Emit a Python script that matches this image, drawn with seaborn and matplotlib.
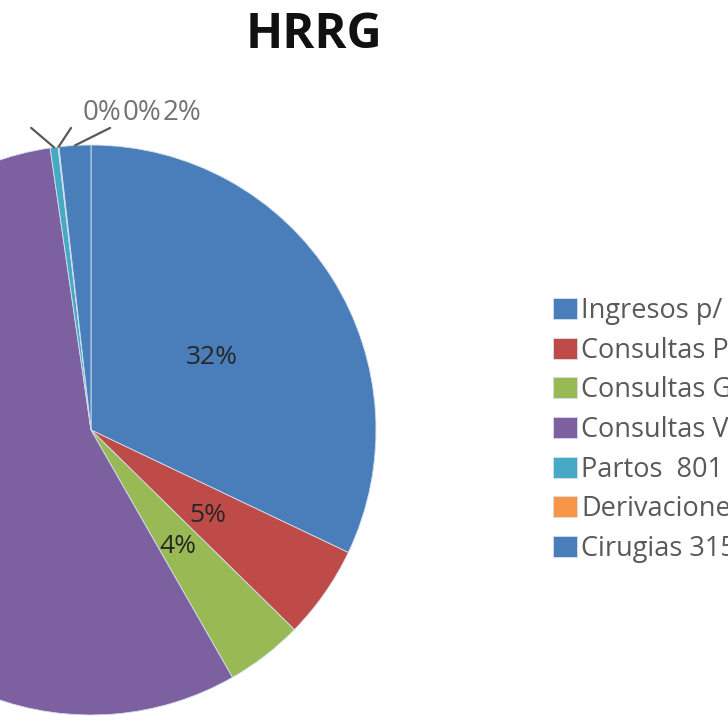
import matplotlib
matplotlib.use('Agg')
import matplotlib.pyplot as plt
import numpy as np
import seaborn as sns

categorias = ['Ingresos p/', 'Consultas P', 'Consultas G', 'Consultas V',
              'Partos  801', 'Derivacione', 'Cirugias 315']
valores = [32.2, 5.3, 4.4, 56.2, 0.45, 0.05, 1.8]
colores = ['#4A7EBB', '#BE4B48', '#98B954', '#7D60A0', '#46AAC5', '#F79646', '#4A7EBB']

# etiquetas de las porciones chicas, van afuera con linea guia
chicas = {4: (-0.21, 1.06), 5: (-0.07, 1.06), 6: (0.067, 1.06)}

sns.set_theme(style='white')
plt.rcParams['font.family'] = ['Open Sans', 'DejaVu Sans']

fig = plt.figure(figsize=(7.28, 7.28), dpi=100)
# la torta se corta a la izquierda, igual que la captura original
ax = fig.add_axes([(91 - 285) / 728, 13 / 728, 570 / 728, 570 / 728])

wedges, _, pct = ax.pie(valores,
                        colors=sns.color_palette(colores),
                        startangle=90,
                        counterclock=False,
                        radius=1,
                        autopct=lambda p: f'{p:.0f}%' if 3 < p < 50 else '',
                        pctdistance=0.5,
                        wedgeprops={'linewidth': 0.6, 'edgecolor': '#D5E0F0'},
                        textprops={'fontsize': 19, 'color': '#262626'})
ax.set_xlim(-1, 1)
ax.set_ylim(-1, 1)

for t in pct:
    x, y = t.get_position()
    t.set_position((x, y - 0.012))

total = sum(valores)
for i, (tx, ty) in chicas.items():
    ang = np.deg2rad((wedges[i].theta1 + wedges[i].theta2) / 2)
    ax.annotate('', xy=(np.cos(ang), np.sin(ang)), xytext=(tx, ty),
                arrowprops={'arrowstyle': '-', 'color': '#595959', 'lw': 1.6,
                            'shrinkA': 0, 'shrinkB': 0})

for x_txt, i in zip([-0.028, 0.112, 0.252], chicas):
    ax.text(x_txt, 1.112, f'{valores[i] / total * 100:.0f}%', ha='left', va='center',
            fontsize=20, color='#737373')

fig.text(314 / 728, 1 - 36 / 728, 'HRRG', ha='center', va='center',
         fontsize=35, fontweight='bold', color='#111111')

fig.legend(wedges, categorias,
           loc='center left',
           bbox_to_anchor=(553 / 728, 1 - 430 / 728),
           frameon=False,
           fontsize=19.5,
           labelcolor='#595959',
           handlelength=0.89,
           handleheight=0.82,
           handletextpad=0.16,
           labelspacing=0.43,
           borderpad=0,
           borderaxespad=0)

fig.savefig('out.png', dpi=100)
